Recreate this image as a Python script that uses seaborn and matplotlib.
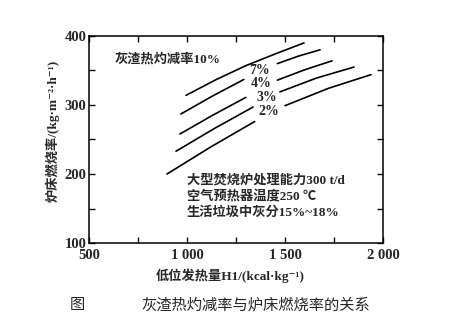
import numpy as np
import pandas as pd
import matplotlib
matplotlib.use("Agg")
import matplotlib.pyplot as plt
import seaborn as sns

# ---- data ----
h1_10 = [995, 1150, 1300, 1450, 1597]
rate_10 = [314, 337, 357, 374, 390]

h1_7a = [969, 1130, 1290]
rate_7a = [287, 313, 337]
h1_7b = [1461, 1570, 1679]
rate_7b = [360, 371, 380]

h1_4a = [964, 1130, 1300]
rate_4a = [258, 285, 311]
h1_4b = [1461, 1600, 1740]
rate_4b = [336, 351, 364]

h1_3a = [944, 1140, 1337]
rate_3a = [233, 266, 297]
h1_3b = [1474, 1660, 1852]
rate_3b = [319, 339, 355]

h1_2a = [898, 1120, 1345]
rate_2a = [200, 239, 276]
h1_2b = [1500, 1720, 1939]
rate_2b = [299, 324, 344]

curve_labels = ["7%", "4%", "3%", "2%"]
label_h1 = [1372, 1378, 1407, 1415]
label_rate = [350, 331, 311, 290]

x_ticks = [500, 1000, 1500, 2000]
x_ticklabels = ["500", "1 000", "1 500", "2 000"]
y_ticks = [100, 200, 300, 400]
y_ticklabels = ["100", "200", "300", "400"]

segments = {
    "10": (h1_10, rate_10),
    "7a": (h1_7a, rate_7a), "7b": (h1_7b, rate_7b),
    "4a": (h1_4a, rate_4a), "4b": (h1_4b, rate_4b),
    "3a": (h1_3a, rate_3a), "3b": (h1_3b, rate_3b),
    "2a": (h1_2a, rate_2a), "2b": (h1_2b, rate_2b),
}
rows = []
for seg, (xs, ys) in segments.items():
    for xv, yv in zip(xs, ys):
        rows.append({"H1": xv, "rate": yv, "seg": seg})
df = pd.DataFrame(rows)

# ---- style ----
sns.set_style("ticks")
FAM = ["Liberation Serif", "Noto Sans CJK SC", "DejaVu Sans"]
plt.rcParams["font.family"] = FAM
plt.rcParams["axes.unicode_minus"] = False

fig = plt.figure(figsize=(4.5, 3.23), dpi=100)
ax = fig.add_axes([89 / 450, 1 - 243 / 323, 294 / 450, 207 / 323])

sns.lineplot(data=df, x="H1", y="rate", units="seg", estimator=None,
             sort=False, color="black", linewidth=1.2, legend=False, ax=ax)

ax.set_xlim(500, 2000)
ax.set_ylim(100, 400)
ax.set_xticks(x_ticks)
ax.set_xticklabels(x_ticklabels)
ax.set_yticks(y_ticks)
ax.set_yticklabels(y_ticklabels)
ax.set_xticks([750, 1250, 1750], minor=True)
ax.set_yticks([150, 250, 350], minor=True)
ax.tick_params(which="both", direction="in", top=True, right=True,
               width=1.0, color="black")
ax.tick_params(which="major", length=4, labelsize=10.5)
ax.tick_params(axis="x", which="major", pad=4)
ax.tick_params(axis="y", which="major", pad=2)
ax.tick_params(which="minor", length=4)
for lab in ax.get_xticklabels() + ax.get_yticklabels():
    lab.set_fontweight("bold")
for sp in ax.spines.values():
    sp.set_linewidth(1.1)
    sp.set_color("black")

ax.set_xlabel("低位发热量H1/(kcal·kg⁻¹)", fontsize=9.5, fontweight="bold")
ax.set_ylabel("炉床燃烧率/(kg·m⁻²·h⁻¹)", fontsize=9.5, fontweight="bold")
ax.xaxis.set_label_coords(0.48, -0.125)
ax.yaxis.set_label_coords(-0.10, 0.54)

ax.text(633, 367, "灰渣热灼减率10%", fontsize=9.5, fontweight="bold",
        va="center", ha="left")
for t, xv, yv in zip(curve_labels, label_h1, label_rate):
    ax.text(xv, yv, t, fontsize=10, fontweight="bold", ha="center", va="center")

notes = ["大型焚烧炉处理能力300 t/d", "空气预热器温度250 ℃", "生活垃圾中灰分15%~18%"]
note_y = [191, 168, 144]
for t, yv in zip(notes, note_y):
    ax.text(1000, yv, t, fontsize=9.5, fontweight="bold", ha="left", va="center")

fig.text(77 / 450, 1 - 305 / 323, "图", fontsize=11, ha="center", va="center")
fig.text(256 / 450, 1 - 305 / 323, "灰渣热灼减率与炉床燃烧率的关系",
         fontsize=11, ha="center", va="center")

fig.savefig("out.png", dpi=100)
